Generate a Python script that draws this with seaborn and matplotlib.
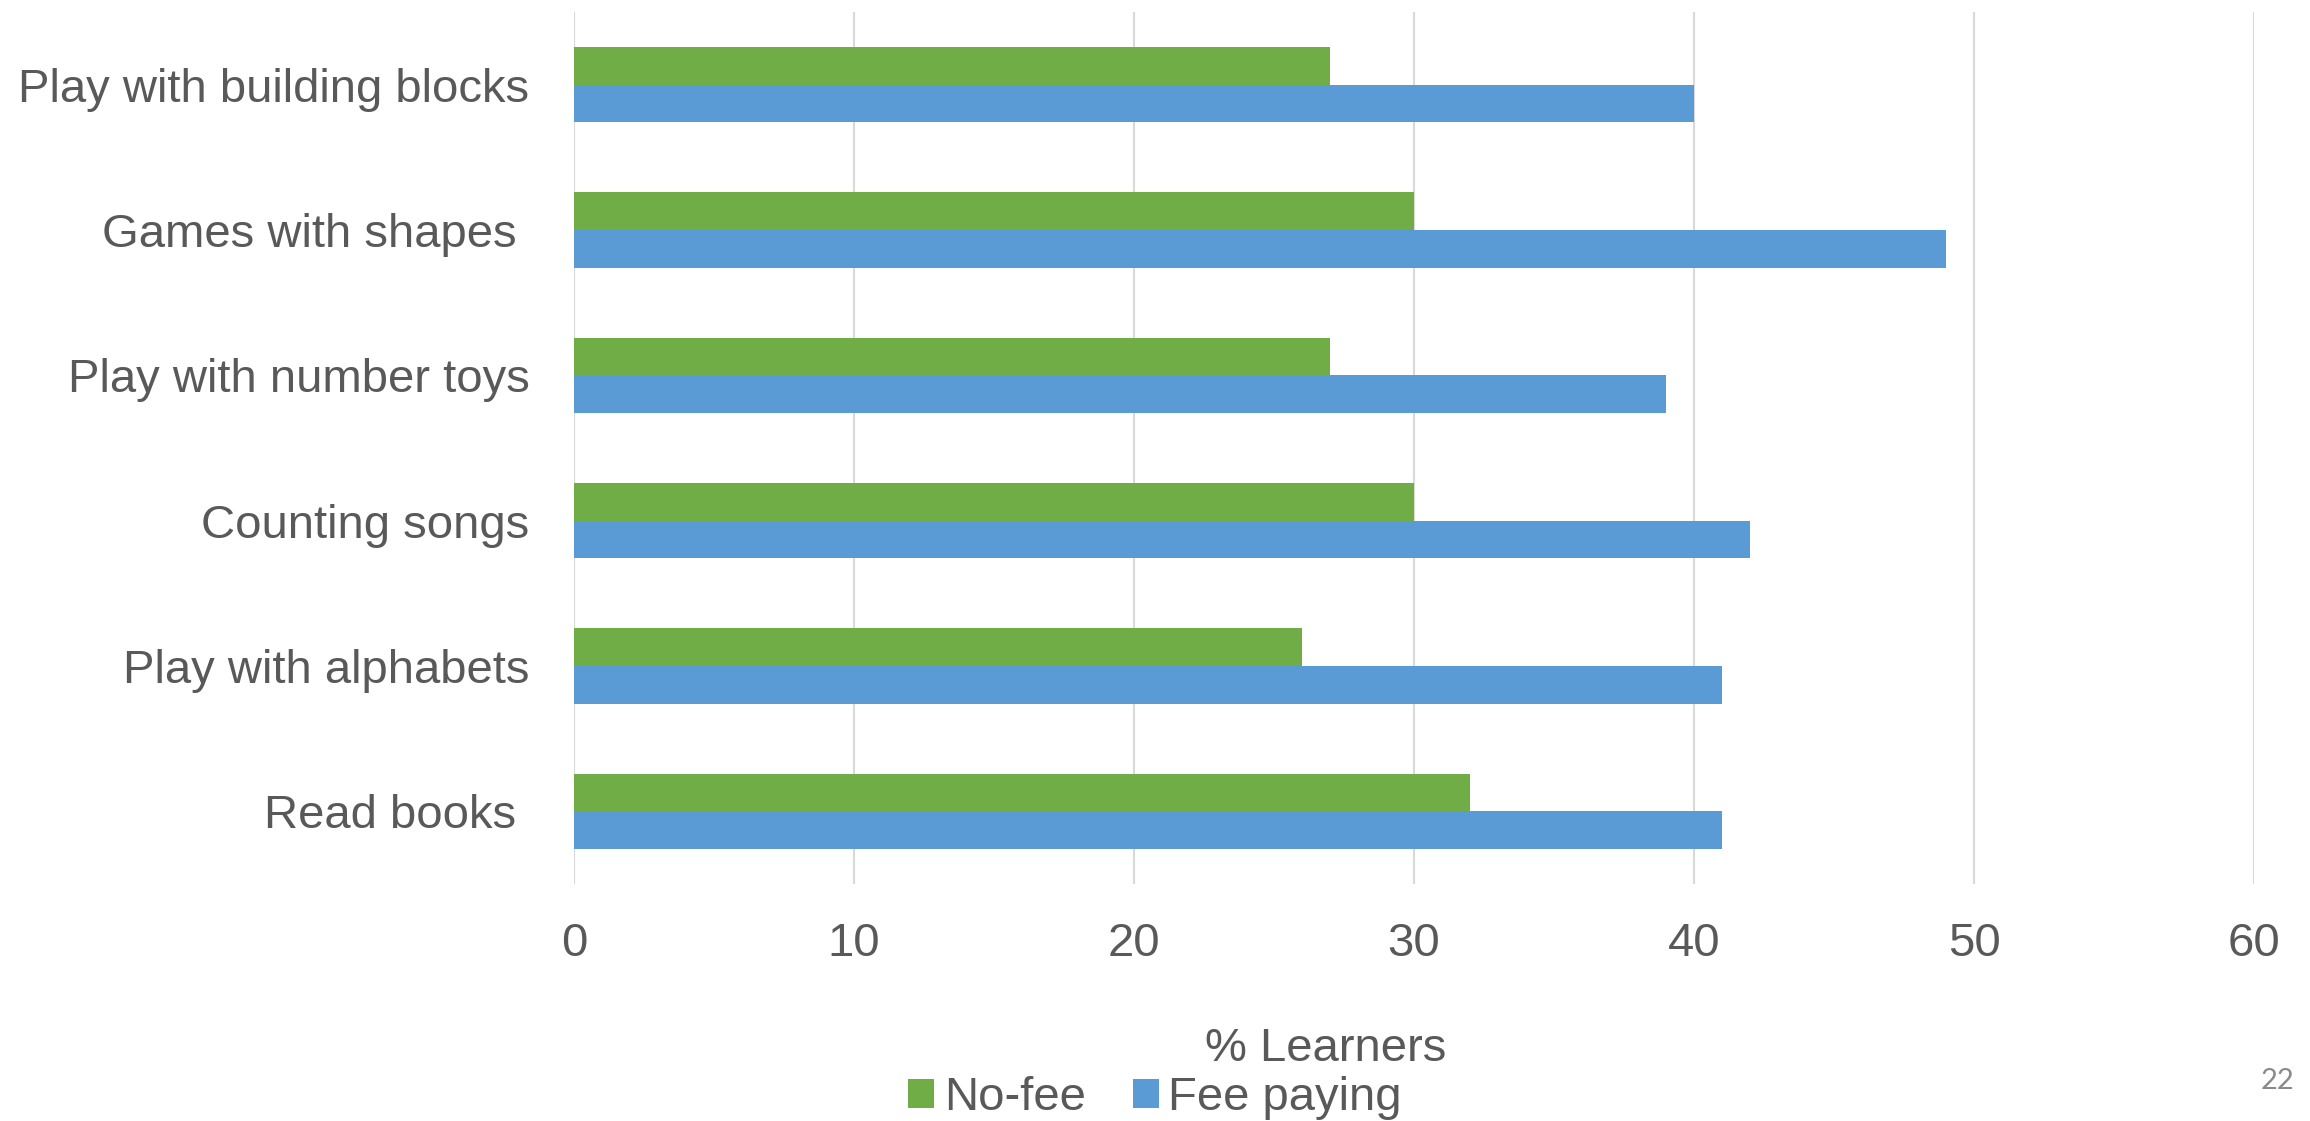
import matplotlib
matplotlib.use("Agg")
import matplotlib.pyplot as plt
from matplotlib.patches import Patch
import seaborn as sns
import pandas as pd

activities = [
    "Play with building blocks",
    "Games with shapes ",
    "Play with number toys",
    "Counting songs",
    "Play with alphabets",
    "Read books ",
]
no_fee = [27, 30, 27, 30, 26, 32]
fee_paying = [40, 49, 39, 42, 41, 41]
groups = ["No-fee", "Fee paying"]
x_ticks = [0, 10, 20, 30, 40, 50, 60]

colors = {"No-fee": "#70AD47", "Fee paying": "#5B9BD5"}
text_color = "#595959"

df = pd.DataFrame({
    "activity": activities * 2,
    "group": [groups[0]] * len(activities) + [groups[1]] * len(activities),
    "value": no_fee + fee_paying,
})

sns.set_theme(style="white")
plt.rcParams["font.family"] = ["Liberation Sans", "DejaVu Sans"]

fig = plt.figure(figsize=(23.1, 11.21), dpi=100)
ax = fig.add_axes([0.2485, 0.2114, 0.7273, 0.7779])

sns.barplot(data=df, y="activity", x="value", hue="group", orient="h",
            order=activities, hue_order=groups, palette=colors,
            width=0.52, gap=0, linewidth=0, saturation=1, ax=ax)

ax.set_xlim(0, 60)
ax.set_xticks(x_ticks)
ax.set_xticklabels([str(t) for t in x_ticks])
ax.xaxis.grid(True, color="#D9D9D9", linewidth=1.5)
ax.yaxis.grid(False)
ax.set_axisbelow(True)
for s in ax.spines.values():
    s.set_visible(False)

ax.tick_params(axis="x", length=0, pad=27, labelsize=34, labelcolor=text_color)
ax.tick_params(axis="y", length=0, pad=32, labelsize=34, labelcolor=text_color)
ax.set_xlabel("")
ax.set_ylabel("")

if ax.get_legend() is not None:
    ax.get_legend().remove()

fig.text(1326 / 2310, 1 - 1049 / 1121, "% Learners", ha="center", va="center",
         fontsize=34, color=text_color)

handles = [Patch(facecolor=colors[g], edgecolor="none", label=g) for g in groups]
fig.legend(handles=handles, loc="center", bbox_to_anchor=(1155 / 2310, 1 - 1098 / 1121),
           ncol=2, frameon=False, fontsize=34, labelcolor=text_color,
           handlelength=0.55, handleheight=0.55, handletextpad=0.2,
           columnspacing=1.0, borderpad=0)

fig.text(2277 / 2310, 1 - 1081 / 1121, "22", ha="center", va="center",
         fontsize=21, color="#8A8A8A", family=["Lato", "DejaVu Sans"])

fig.savefig("out.png", dpi=100, facecolor="white")
